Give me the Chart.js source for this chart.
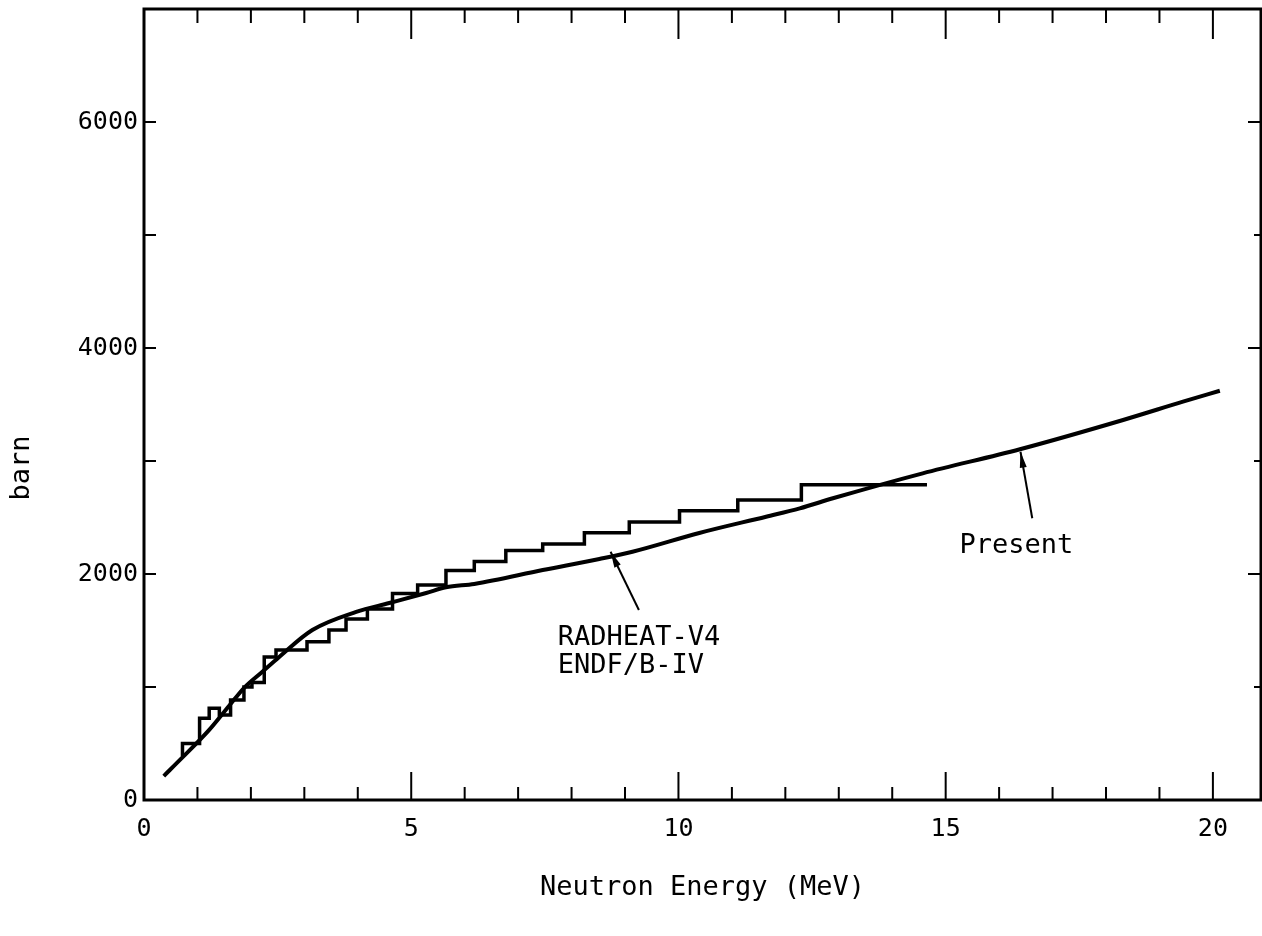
<!DOCTYPE html>
<html>
<head>
<meta charset="utf-8">
<script src="https://cdn.jsdelivr.net/npm/chart.js@4.4.1/dist/chart.umd.min.js"></script>
<style>
  html, body { margin: 0; padding: 0; background: #fff; }
  #wrap { width: 1262px; height: 936px; }
</style>
</head>
<body>
<div id="wrap"><canvas id="chart"></canvas></div>
<script>
// "Present" smooth curve (MeV, barn)
const presentEnergy = [0.37, 0.71, 1.22, 1.59, 1.87, 2.21, 2.53, 3.15, 3.97, 4.59, 5.28, 5.65, 6.18, 7.46, 8.52, 9.14, 10.39, 11.64, 12.27, 12.89, 14.57, 16.39, 18.32, 19.44, 20.13];
const presentBarn = [212, 372, 620, 832, 991, 1133, 1266, 1504, 1664, 1743, 1832, 1882, 1912, 2035, 2133, 2197, 2363, 2507, 2581, 2670, 2891, 3104, 3363, 3525, 3622];

// RADHEAT-V4 / ENDF/B-IV group values (lower group edge, barn)
const radheatEnergy = [0.72, 1.04, 1.22, 1.41, 1.62, 1.87, 2.02, 2.25, 2.47, 3.05, 3.46, 3.78, 4.18, 4.65, 5.12, 5.65, 6.18, 6.77, 7.46, 8.24, 9.08, 10.02, 11.11, 12.3, 13.61, 14.65];
const radheatBarn = [389, 501, 723, 811, 752, 885, 1000, 1040, 1265, 1328, 1401, 1504, 1602, 1690, 1828, 1903, 2030, 2110, 2207, 2266, 2366, 2460, 2560, 2655, 2790, 2790];

const xTickValues = [0, 5, 10, 15, 20];
const yTickValues = [0, 2000, 4000, 6000];

const FONT = 'DejaVu Sans Mono';

// labels and arrows, placed in data units
const notes = [
  { lines: ['RADHEAT-V4', 'ENDF/B-IV'], x: 7.74, y: 1372, lineGap: 24, arrow: { from: [9.26, 1681], to: [8.73, 2197] } },
  { lines: ['Present'], x: 15.26, y: 2186, lineGap: 24, arrow: { from: [16.62, 2493], to: [16.40, 3082] } }
];

const framePlugin = {
  id: 'frame',
  afterDatasetsDraw(chart) {
    const { ctx, chartArea: a, scales: { x, y } } = chart;
    ctx.save();
    ctx.strokeStyle = '#000';
    ctx.lineWidth = 3;
    ctx.strokeRect(a.left, a.top, a.right - a.left, a.bottom - a.top);

    // inward tick marks
    ctx.lineWidth = 2;
    ctx.beginPath();
    for (let v = 1; v <= 20; v++) {
      const px = x.getPixelForValue(v);
      const major = v % 5 === 0;
      ctx.moveTo(px, a.bottom);
      ctx.lineTo(px, a.bottom - (major ? 28 : 13));
      ctx.moveTo(px, a.top);
      ctx.lineTo(px, a.top + (major ? 30 : 14));
    }
    for (let v = 1000; v <= 6000; v += 1000) {
      const py = y.getPixelForValue(v);
      ctx.moveTo(a.left, py);
      ctx.lineTo(a.left + 12, py);
      ctx.moveTo(a.right, py);
      ctx.lineTo(a.right - (v % 2000 === 0 ? 13 : 7), py);
    }
    ctx.stroke();

    // annotations
    ctx.fillStyle = '#000';
    ctx.font = '27px "' + FONT + '"';
    ctx.textBaseline = 'alphabetic';
    ctx.textAlign = 'left';
    notes.forEach(n => {
      const tx = x.getPixelForValue(n.x);
      const ty = y.getPixelForValue(n.y);
      n.lines.forEach((t, i) => ctx.fillText(t, tx, ty + i * (n.lineGap + 4)));

      const x0 = x.getPixelForValue(n.arrow.from[0]), y0 = y.getPixelForValue(n.arrow.from[1]);
      const x1 = x.getPixelForValue(n.arrow.to[0]), y1 = y.getPixelForValue(n.arrow.to[1]);
      ctx.lineWidth = 2;
      ctx.beginPath();
      ctx.moveTo(x0, y0);
      ctx.lineTo(x1, y1);
      ctx.stroke();
      const ang = Math.atan2(y1 - y0, x1 - x0);
      const len = 16, half = 3.5;
      ctx.beginPath();
      ctx.moveTo(x1, y1);
      ctx.lineTo(x1 - len * Math.cos(ang) + half * Math.sin(ang), y1 - len * Math.sin(ang) - half * Math.cos(ang));
      ctx.lineTo(x1 - len * Math.cos(ang) - half * Math.sin(ang), y1 - len * Math.sin(ang) + half * Math.cos(ang));
      ctx.closePath();
      ctx.fill();
    });

    // y axis title
    ctx.save();
    ctx.translate(22, 468);
    ctx.rotate(-Math.PI / 2);
    ctx.textAlign = 'center';
    ctx.textBaseline = 'middle';
    ctx.fillText('barn', 0, 0);
    ctx.restore();

    ctx.restore();
  }
};

const data = {
  datasets: [
    {
      label: 'Present',
      data: presentEnergy.map((e, i) => ({ x: e, y: presentBarn[i] })),
      borderColor: '#000',
      borderWidth: 4,
      pointRadius: 0,
      cubicInterpolationMode: 'monotone',
      fill: false
    },
    {
      label: 'RADHEAT-V4 ENDF/B-IV',
      data: radheatEnergy.map((e, i) => ({ x: e, y: radheatBarn[i] })),
      borderColor: '#000',
      borderWidth: 3.5,
      pointRadius: 0,
      stepped: 'after',
      fill: false
    }
  ]
};

const config = {
  type: 'line',
  data: data,
  options: {
    responsive: true,
    maintainAspectRatio: false,
    animation: false,
    devicePixelRatio: 1,
    layout: { padding: { top: 9, left: 0, right: 1, bottom: 0 } },
    scales: {
      x: {
        type: 'linear',
        min: 0,
        max: 20.9,
        afterBuildTicks: s => { s.ticks = xTickValues.map(v => ({ value: v })); },
        afterFit: s => { s.height = 136; s.paddingLeft = 0; s.paddingRight = 0; },
        grid: { display: false, drawTicks: false },
        border: { display: false },
        ticks: {
          color: '#000',
          padding: 14,
          maxRotation: 0,
          font: { family: FONT, size: 25 },
          callback: v => String(v)
        },
        title: {
          display: true,
          text: 'Neutron Energy (MeV)',
          color: '#000',
          padding: { top: 0, bottom: 32 },
          font: { family: FONT, size: 27 }
        }
      },
      y: {
        type: 'linear',
        min: 0,
        max: 7000,
        afterBuildTicks: s => { s.ticks = yTickValues.map(v => ({ value: v })); },
        afterFit: s => { s.width = 144; s.paddingTop = 0; s.paddingBottom = 0; },
        grid: { display: false, drawTicks: false },
        border: { display: false },
        ticks: {
          color: '#000',
          padding: 6,
          font: { family: FONT, size: 25 },
          callback: v => String(v)
        }
      }
    },
    plugins: {
      legend: { display: false },
      tooltip: { enabled: false }
    }
  },
  plugins: [framePlugin]
};

new Chart(document.getElementById('chart').getContext('2d'), config);
</script>
</body>
</html>
